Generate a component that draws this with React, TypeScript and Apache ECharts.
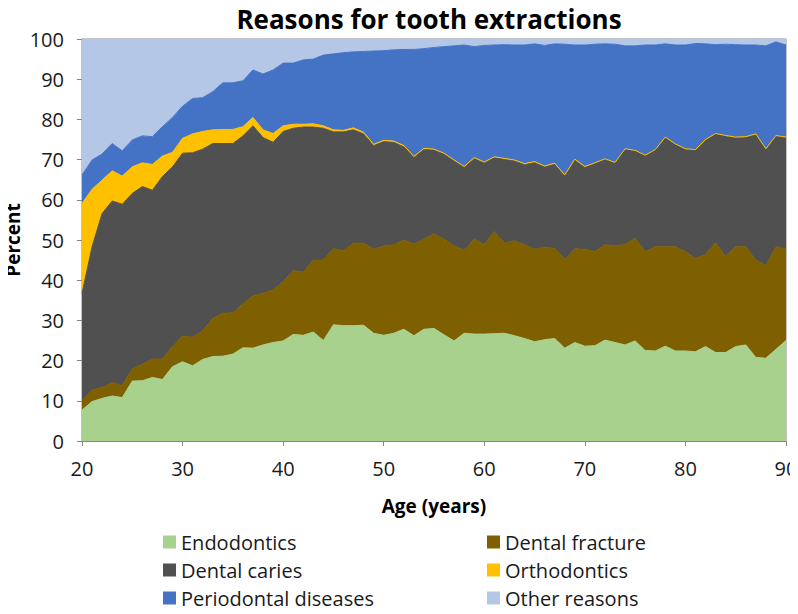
import React, { useEffect, useRef } from "react";
import * as echarts from "echarts";

const ages: string[] = [];
for (let a = 20; a <= 90; a++) ages.push(String(a));

const endodontics = [
  7.7, 9.8, 10.6, 11.2, 10.8, 14.9, 15.0, 15.8, 15.3, 18.5,
  19.7, 18.7, 20.3, 21.0, 21.1, 21.6, 23.2, 23.1, 23.9, 24.5,
  24.9, 26.5, 26.3, 27.1, 25.0, 28.9, 28.7, 28.7, 28.8, 26.8,
  26.3, 26.8, 27.8, 26.2, 27.8, 28.0, 26.4, 24.9, 26.8, 26.6,
  26.6, 26.7, 26.8, 26.2, 25.5, 24.7, 25.2, 25.5, 23.1, 24.5,
  23.6, 23.7, 25.1, 24.5, 23.9, 24.9, 22.5, 22.4, 23.6, 22.4,
  22.4, 22.2, 23.5, 22.0, 22.0, 23.5, 23.9, 20.8, 20.6, 22.8,
  25.0,
];

const dentalFracture = [
  2.5, 2.9, 2.7, 3.3, 3.0, 3.0, 4.1, 4.6, 5.1, 5.0,
  6.4, 7.1, 7.1, 9.5, 10.7, 10.3, 10.9, 13.0, 12.8, 13.1,
  14.7, 15.9, 15.7, 17.9, 20.0, 19.0, 18.6, 20.5, 20.4, 20.9,
  22.2, 22.0, 22.2, 22.8, 22.4, 23.5, 23.8, 23.6, 20.7, 23.6,
  22.3, 25.4, 22.4, 23.6, 23.3, 23.0, 23.0, 22.4, 22.1, 23.3,
  24.1, 23.4, 23.7, 24.0, 25.0, 25.5, 24.6, 25.9, 24.7, 25.9,
  24.7, 23.2, 22.9, 27.3, 23.9, 24.8, 24.4, 24.2, 23.0, 25.5,
  22.7,
];

const dentalCaries = [
  26.5, 35.6, 43.3, 45.2, 45.1, 43.7, 44.2, 42.0, 45.4, 44.7,
  45.5, 45.9, 45.2, 43.5, 42.2, 42.1, 41.8, 42.3, 38.8, 36.7,
  37.4, 35.4, 36.1, 33.1, 32.8, 29.0, 29.6, 28.2, 27.2, 25.8,
  26.0, 25.5, 23.2, 21.6, 22.4, 20.9, 21.2, 21.2, 20.6, 20.1,
  20.3, 18.4, 20.9, 19.9, 20.0, 21.6, 20.0, 21.0, 20.8, 22.1,
  20.4, 22.0, 21.3, 20.7, 23.7, 21.8, 23.9, 24.1, 27.2, 25.5,
  25.5, 27.0, 28.5, 27.1, 30.0, 27.2, 27.3, 31.3, 29.0, 27.6,
  27.8,
];

const orthodontics = [
  22.4, 14.3, 8.3, 7.5, 7.0, 6.6, 5.9, 6.4, 5.1, 3.6,
  3.7, 4.7, 4.4, 3.4, 3.5, 3.5, 2.3, 2.1, 1.9, 2.2,
  1.4, 1.0, 0.7, 0.8, 0.6, 0.5, 0.4, 0.5, 0.4, 0.3,
  0.3, 0.3, 0.3, 0.2, 0.2, 0.2, 0.2, 0.2, 0.2, 0.2,
  0.2, 0.2, 0.2, 0.2, 0.2, 0.2, 0.2, 0.2, 0.2, 0.2,
  0.2, 0.1, 0.1, 0.1, 0.1, 0.1, 0.1, 0.1, 0.1, 0.1,
  0.1, 0.1, 0.1, 0.1, 0.1, 0.1, 0.1, 0.1, 0.1, 0.1,
  0.1,
];

const periodontal = [
  7.1, 7.3, 6.5, 6.8, 6.3, 6.7, 6.7, 6.9, 7.3, 8.7,
  8.0, 8.8, 8.4, 9.5, 11.6, 11.6, 11.4, 11.8, 13.9, 15.8,
  15.6, 15.2, 16.0, 16.1, 17.6, 18.9, 19.3, 18.9, 20.1, 23.2,
  22.3, 22.7, 23.9, 26.6, 24.8, 25.3, 26.5, 28.4, 30.2, 27.6,
  29.0, 27.8, 28.3, 28.6, 29.5, 29.3, 30.0, 29.7, 32.5, 28.4,
  30.2, 29.5, 28.6, 29.4, 25.6, 26.0, 27.4, 26.0, 23.2, 24.6,
  25.8, 26.4, 23.8, 22.1, 22.7, 23.0, 22.8, 22.1, 25.6, 23.3,
  22.9,
];

const otherReasons = [
  33.8, 30.1, 28.6, 26.0, 27.8, 25.1, 24.1, 24.3, 21.8, 19.5,
  16.7, 14.8, 14.6, 13.1, 10.9, 10.9, 10.4, 7.7, 8.7, 7.7,
  6.0, 6.0, 5.2, 5.0, 4.0, 3.7, 3.4, 3.2, 3.1, 3.0,
  2.9, 2.7, 2.6, 2.6, 2.4, 2.1, 1.9, 1.7, 1.5, 1.9,
  1.6, 1.5, 1.4, 1.5, 1.5, 1.2, 1.6, 1.2, 1.3, 1.5,
  1.5, 1.3, 1.2, 1.3, 1.7, 1.7, 1.5, 1.5, 1.2, 1.5,
  1.5, 1.1, 1.2, 1.4, 1.3, 1.4, 1.5, 1.5, 1.7, 0.7,
  1.5,
];

const seriesDefs = [
  { name: "Endodontics", data: endodontics, color: "#A9D18E" },
  { name: "Dental fracture", data: dentalFracture, color: "#7F6000" },
  { name: "Dental caries", data: dentalCaries, color: "#505050" },
  { name: "Orthodontics", data: orthodontics, color: "#FFC000" },
  { name: "Periodontal diseases", data: periodontal, color: "#4472C4" },
  { name: "Other reasons", data: otherReasons, color: "#B4C7E7" },
];

const FONT = "Open Sans";

export default function App() {
  const ref = useRef<HTMLDivElement>(null);
  useEffect(() => {
    if (!ref.current) return;
    const chart = echarts.init(ref.current, undefined, { renderer: "svg" });
    const legendCommon = {
      orient: "vertical" as const,
      icon: "rect",
      itemWidth: 13,
      itemHeight: 13,
      itemGap: 8,
      height: 120,
      padding: 0,
      textStyle: { fontFamily: FONT, fontSize: 20, color: "#1a1a1a" },
      selectedMode: false,
    };
    const tickInterval = (i: number) => i % 10 === 0;
    chart.setOption({
      animation: false,
      backgroundColor: "#ffffff",
      title: {
        text: "Reasons for tooth extractions",
        left: 429,
        textAlign: "center",
        top: 6,
        padding: 0,
        textStyle: { fontFamily: FONT, fontSize: 26, fontWeight: "bold", color: "#000" },
      },
      legend: [
        { ...legendCommon, left: 163, top: 532, data: ["Endodontics", "Dental caries", "Periodontal diseases"] },
        { ...legendCommon, left: 487, top: 532, data: ["Dental fracture", "Orthodontics", "Other reasons"] },
      ],
      grid: {
        left: 82,
        right: 12,
        top: 39,
        bottom: 173,
        show: true,
        borderColor: "#868686",
        borderWidth: 1,
        outerBoundsMode: "none",
        containLabel: false,
      },
      xAxis: {
        type: "category",
        boundaryGap: false,
        data: ages,
        name: "Age (years)",
        nameLocation: "middle",
        nameGap: 55,
        nameMoveOverlap: false,
        nameTextStyle: { fontFamily: FONT, fontSize: 19, fontWeight: "bold", color: "#000" },
        axisLine: { show: true, lineStyle: { color: "#868686" } },
        axisTick: { show: true, length: 5, interval: tickInterval, lineStyle: { color: "#868686" } },
        axisLabel: { fontFamily: FONT, fontSize: 20, color: "#1a1a1a", margin: 17, interval: tickInterval },
        splitLine: { show: false },
      },
      yAxis: {
        type: "value",
        min: 0,
        max: 100,
        interval: 10,
        name: "Percent",
        nameLocation: "middle",
        nameGap: 60,
        nameMoveOverlap: false,
        nameTextStyle: { fontFamily: FONT, fontSize: 19, fontWeight: "bold", color: "#000" },
        axisLine: { show: true, lineStyle: { color: "#868686" } },
        axisTick: { show: true, length: 5, lineStyle: { color: "#868686" } },
        axisLabel: { fontFamily: FONT, fontSize: 20, color: "#1a1a1a", margin: 18 },
        splitLine: { show: false },
      },
      series: seriesDefs.map((s) => ({
        name: s.name,
        type: "line",
        stack: "total",
        symbol: "none",
        color: s.color,
        lineStyle: { width: 1, color: s.color },
        areaStyle: { color: s.color, opacity: 1 },
        data: s.data,
      })),
    });
    return () => chart.dispose();
  }, []);
  return <div ref={ref} style={{ width: 798, height: 614, margin: -8 }} />;
}
